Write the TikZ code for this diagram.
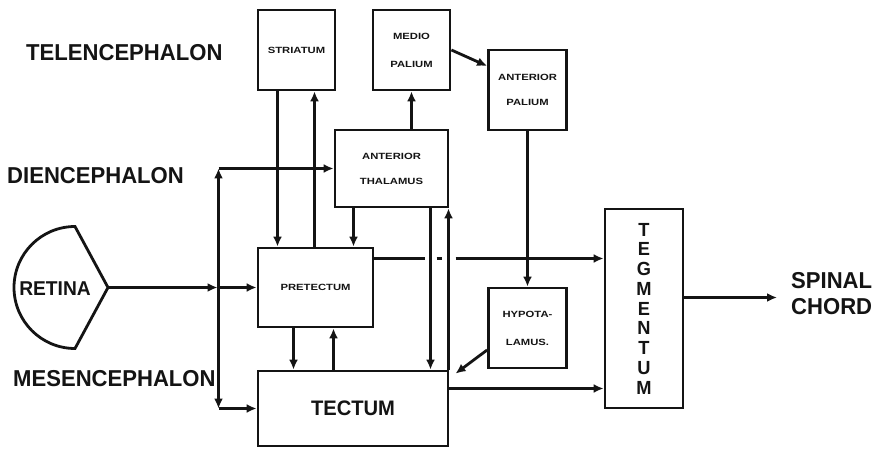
\documentclass[tikz,border=0pt]{standalone}
\usepackage{fontspec}
\setmainfont{Liberation Sans}
\newfontfamily\lblfont[FakeStretch=0.96]{Liberation Sans}
\newfontfamily\boxfont[FakeStretch=1.25]{Liberation Sans}
\usetikzlibrary{arrows.meta,positioning,calc}
\definecolor{inkBlack}{HTML}{141414}

\begin{document}
\begin{tikzpicture}[x=1pt,y=1pt,
    region/.style={font=\lblfont\bfseries\fontsize{23}{26}\selectfont,inner sep=0pt,anchor=west,text=inkBlack},
    area/.style={draw=inkBlack,line width=2.8pt,minimum width=78pt,minimum height=80pt,inner sep=0pt,
                 align=center,text=inkBlack,font=\boxfont\bfseries\fontsize{9}{25}\selectfont},
    link/.style={draw=inkBlack,line width=2.8pt},
    arr/.style={link,-{Latex[length=10pt,width=9pt]}}]
  \fill[white] (0,0) rectangle (880,-449);

  % brain levels
  \node[region] (tele) at (26,-53) {TELENCEPHALON};
  \node[region] (dience) at (7,-176) {DIENCEPHALON};
  \node[region] (mesen) at (13,-379) {MESENCEPHALON};

  % centres
  \node[area,minimum width=77pt] (striatum) at (296.5,-50) {STRIATUM};
  \node[area,minimum width=77pt,font=\boxfont\bfseries\fontsize{9}{28}\selectfont] (medio) at (411.5,-50) {MEDIO\\PALIUM};
  \node[area] (antpal) at (527.5,-90) {ANTERIOR\\PALIUM};
  \node[area,minimum width=113pt,minimum height=77pt] (thalamus) at (391.5,-168.5) {ANTERIOR\\THALAMUS};
  \node[area,minimum width=115pt,minimum height=79pt] (pretectum) at (315.5,-287.5) {PRETECTUM};
  \node[area,minimum width=190pt,minimum height=75pt,font=\lblfont\bfseries\fontsize{21}{24}\selectfont] (tectum) at (353,-408.5) {TECTUM};
  \node[area,font=\boxfont\bfseries\fontsize{9}{28}\selectfont] (hypot) at (527.5,-328) {HYPOTA-\\LAMUS.};
  \node[area,minimum height=199pt,font=\lblfont\bfseries\fontsize{19}{19.75}\selectfont] (tegmentum) at (644,-308.5) {T\\E\\G\\M\\E\\N\\T\\U\\M};
  \node[region,align=left] (spinal) at (791,-294) {SPINAL\\CHORD};

  % retina
  \draw[link] (75,-226.5) arc[start angle=90,end angle=270,radius=61] -- (108,-287.5) coordinate (rtip) -- cycle;
  \node[font=\lblfont\bfseries\fontsize{20}{24}\selectfont,text=inkBlack] (retina) at (55,-289) {RETINA};

  \coordinate (bj) at (218.5,-287.5);
  \coordinate (bt) at (bj |- thalamus.west);
  \coordinate (bb) at (bj |- tectum.west);
  \coordinate (sdn) at ([xshift=-19pt]striatum.south);
  \coordinate (sup) at ([xshift=18pt]striatum.south);
  \coordinate (tp) at ([xshift=-38pt]thalamus.south);
  \coordinate (tt) at ([xshift=39pt]thalamus.south);
  \coordinate (tk) at ([xshift=-0.9pt]tectum.north east);
  \coordinate (pdn) at ([xshift=-22pt]pretectum.south);
  \coordinate (pup) at ([xshift=18pt]pretectum.south);
  \coordinate (pe) at ([yshift=29pt]pretectum.east);
  \coordinate (te) at ([yshift=20pt]tectum.east);
  \coordinate (ge) at ([yshift=11pt]tegmentum.east);
  \coordinate (hw) at ([yshift=-22pt]hypot.west);

  \draw[arr,shorten >=1pt] (rtip) -- (bj);
  \draw[arr] (bj) -- (pretectum.west);
  \draw[arr] (bj) -- (bt);
  \draw[arr] (bt) -- (thalamus.west);
  \draw[arr] (bj) -- (bb);
  \draw[arr] (bb) -- (tectum.west);

  \draw[arr] (sdn) -- (sdn |- pretectum.north);
  \draw[arr] (sup |- pretectum.north) -- (sup);
  \draw[arr] (tp) -- (tp |- pretectum.north);
  \draw[arr] (thalamus.north -| medio.south) -- (medio.south);
  \draw[arr] (medio.east) -- ([yshift=24pt]antpal.west);
  \draw[arr] (antpal.south) -- (hypot.north);

  % pretectum to tegmentum, passing over the verticals
  \draw[link] (pe) -- ($(pe -| tt)+(-6,0)$);
  \draw[link] ($(pe -| tt)+(6,0)$) -- ($(pe -| tk)+(-7,0)$);
  \draw[arr] ($(pe -| tk)+(7,0)$) -- (pe -| tegmentum.west);

  \draw[arr] (tt) -- (tt |- tectum.north);
  \draw[arr] (tk) -- (tk |- thalamus.south);
  \draw[arr] (hw) -- ([xshift=7pt,yshift=-4pt]tk);
  \draw[arr] (pdn) -- (pdn |- tectum.north);
  \draw[arr] (pup |- tectum.north) -- (pup);
  \draw[arr] (te) -- (te -| tegmentum.west);
  \draw[arr,shorten >=14pt] (ge) -- (ge -| spinal.west);
\end{tikzpicture}
\end{document}
